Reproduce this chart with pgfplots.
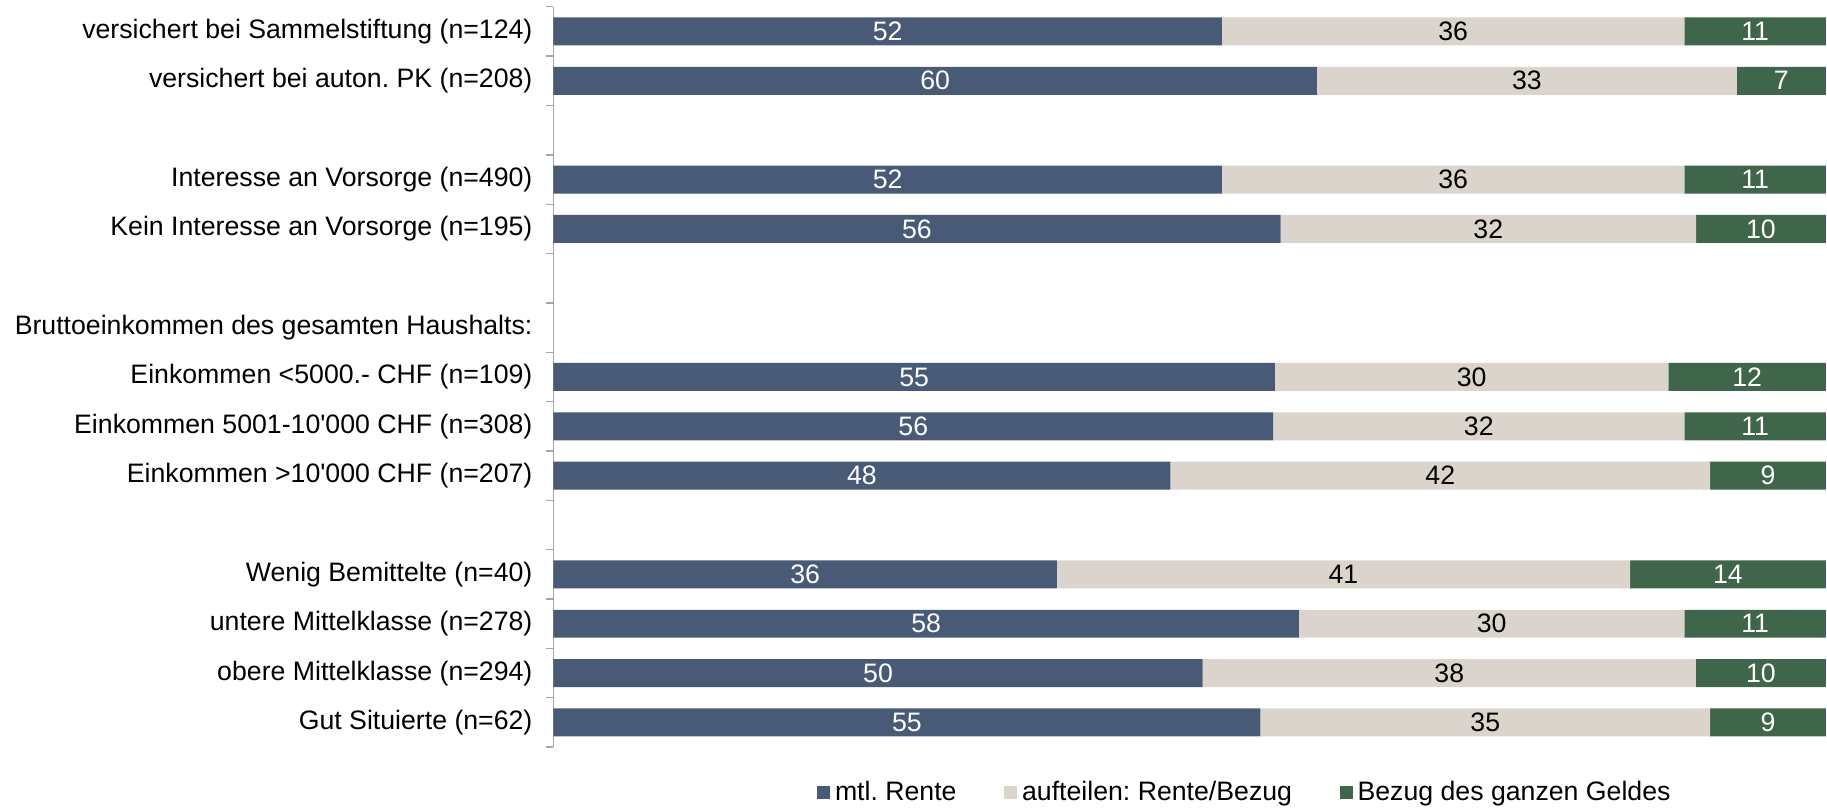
\documentclass[border=0pt]{standalone}
\usepackage{fontspec}
\setmainfont{Liberation Sans}
\usepackage{pgfplots}
\pgfplotsset{compat=1.18}
\usepackage{pgfplotstable}
\definecolor{cA}{HTML}{485A76}
\definecolor{cB}{HTML}{DAD4CD}
\definecolor{cC}{HTML}{3F664A}
\definecolor{axgrey}{HTML}{A6A6A6}
\frenchspacing

\pgfplotstableread{
y a b c
0 52 36 11
1 60 33 7
3 52 36 11
4 56 32 10
7 55 30 12
8 56 32 11
9 48 42 9
11 36 41 14
12 58 30 11
13 50 38 10
14 55 35 9
}\data

\newcommand\fs{\fontsize{11.45}{13.7}\selectfont\frenchspacing}
\pgfplotsset{
  geom/.style={
    at={(237.5pt,25.9pt)}, anchor=south west,
    scale only axis, width=546pt, height=317.7pt,
    xmin=0, xmax=100, ymin=-0.5, ymax=14.5, y dir=reverse},
  lab/.style={only marks, mark=none, draw=none, nodes near coords,
    point meta=explicit symbolic,
    every node near coord/.append style={anchor=center, font=\fs, text=#1, inner sep=0pt}},
}

\begin{document}
\begin{tikzpicture}
\path[use as bounding box] (0,0) rectangle (784pt,346.5pt);
\begin{axis}[
  geom,
  xbar stacked, bar width=12pt,
  axis x line=none, axis y line*=left,
  axis line style={axgrey, line width=0.6pt},
  ytick={0,1,3,4,6,7,8,9,11,12,13,14},
  yticklabels={
    versichert bei Sammelstiftung (n=124),
    versichert bei auton. PK (n=208),
    Interesse an Vorsorge (n=490),
    Kein Interesse an Vorsorge (n=195),
    Bruttoeinkommen des gesamten Haushalts:,
    Einkommen <5000.- CHF (n=109),
    Einkommen 5001-10\textquotesingle000 CHF (n=308),
    Einkommen >10\textquotesingle000 CHF (n=207),
    Wenig Bemittelte (n=40),
    untere Mittelklasse (n=278),
    obere Mittelklasse (n=294),
    Gut Situierte (n=62)},
  major tick length=0pt,
  minor ytick={-0.5,0.5,...,14.5},
  minor tick length=3pt, tick align=outside,
  minor tick style={axgrey, line width=0.6pt},
  yticklabel style={font=\fs, text=black, xshift=-5.5pt},
  legend style={draw=none, fill=none, font=\fs, legend columns=3,
    at={(0.5445,-0.0611)}, anchor=center, inner sep=0pt,
    /tikz/every even column/.append style={column sep=18.5pt}},
  legend image code/.code={\fill[#1] (0pt,-2.8pt) rectangle (5.6pt,2.8pt);},
]
\addplot[fill=cA, draw=none]
  table[y=y, x expr={\thisrow{a}*100/(\thisrow{a}+\thisrow{b}+\thisrow{c})}]{\data};
\addplot[fill=cB, draw=none]
  table[y=y, x expr={\thisrow{b}*100/(\thisrow{a}+\thisrow{b}+\thisrow{c})}]{\data};
\addplot[fill=cC, draw=none]
  table[y=y, x expr={\thisrow{c}*100/(\thisrow{a}+\thisrow{b}+\thisrow{c})}]{\data};
\legend{mtl. Rente, aufteilen: Rente/Bezug, Bezug des ganzen Geldes}
\end{axis}
\begin{axis}[geom, hide axis]
\addplot[lab=white]
  table[y=y, x expr={0.5*\thisrow{a}*100/(\thisrow{a}+\thisrow{b}+\thisrow{c})}, meta=a]{\data};
\addplot[lab=black]
  table[y=y, x expr={(\thisrow{a}+0.5*\thisrow{b})*100/(\thisrow{a}+\thisrow{b}+\thisrow{c})}, meta=b]{\data};
\addplot[lab=white]
  table[y=y, x expr={(\thisrow{a}+\thisrow{b}+0.5*\thisrow{c})*100/(\thisrow{a}+\thisrow{b}+\thisrow{c})}, meta=c]{\data};
\end{axis}
\end{tikzpicture}
\end{document}
